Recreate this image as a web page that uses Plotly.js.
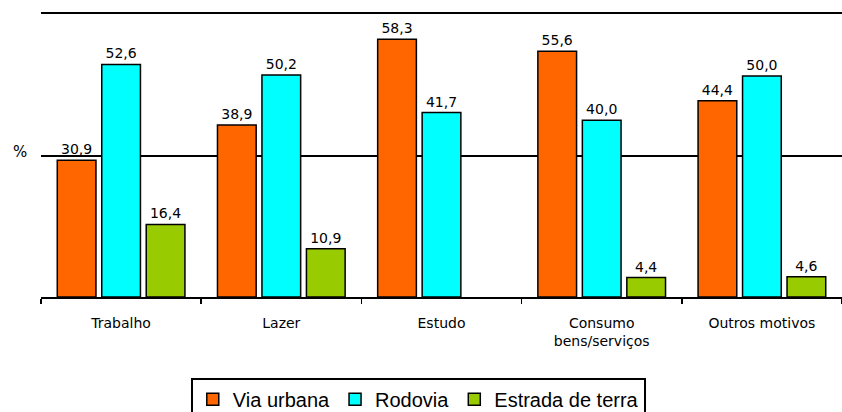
<!DOCTYPE html>
<html>
<head>
<meta charset="utf-8">
<script src="https://cdn.plot.ly/plotly-3.0.1.min.js"></script>
<style>
html,body{margin:0;padding:0;overflow:hidden;background:#fff;width:842px;height:412px;}
#chart{width:842px;height:412px;}
</style>
</head>
<body>
<div id="chart"></div>
<script>
const categories = ["Trabalho", "Lazer", "Estudo", "Consumo<br>bens/serviços", "Outros motivos"];
const viaUrbana = [30.9, 38.9, 58.3, 55.6, 44.4];
const rodovia = [52.6, 50.2, 41.7, 40.0, 50.0];
const estradaTerra = [16.4, 10.9, null, 4.4, 4.6];
const seriesNames = ["Via urbana", "Rodovia", "Estrada de terra"];
const seriesColors = ["#FF6600", "#00FFFF", "#99CC00"];

function fmt(arr){ return arr.map(v => v === null ? "" : v.toFixed(1).replace(".", ",")); }

const traces = [viaUrbana, rodovia, estradaTerra].map((vals, i) => ({
  type: "bar",
  name: seriesNames[i],
  x: categories,
  y: vals,
  text: fmt(vals),
  textposition: "outside",
  cliponaxis: false,
  textfont: {family: "DejaVu Sans, sans-serif", size: 14, color: "#000"},
  marker: {color: seriesColors[i], line: {color: "#000", width: 1.5}},
  hoverinfo: "none"
}));

const layout = {
  width: 842, height: 412,
  margin: {l: 41, r: 0, t: 14, b: 115, autoexpand: false},
  paper_bgcolor: "#fff", plot_bgcolor: "#fff",
  barmode: "group",
  bargap: 0.167,
  bargroupgap: 0.13,
  font: {family: "DejaVu Sans, sans-serif", size: 14, color: "#000"},
  xaxis: {
    type: "category", automargin: false,
    showline: true, linecolor: "#000", linewidth: 2, mirror: true,
    ticks: "outside", tickson: "boundaries", ticklen: 5, tickwidth: 1.5, tickcolor: "#000",
    ticklabelstandoff: 12,
    tickfont: {family: "DejaVu Sans, sans-serif", size: 14, color: "#000"},
    showgrid: false, zeroline: false
  },
  yaxis: {
    range: [0, 64], dtick: 32, tick0: 0, automargin: false,
    showgrid: true, gridcolor: "#000", gridwidth: 2,
    showticklabels: false, ticks: "", zeroline: false, showline: false
  },
  legend: {
    orientation: "h",
    x: 0.187, xanchor: "left",
    y: -0.285, yanchor: "top",
    bordercolor: "#000", borderwidth: 2,
    font: {family: "Liberation Sans, Arial, sans-serif", size: 20, color: "#000"},
    itemclick: false
  },
  annotations: [{
    text: "%", xref: "paper", yref: "paper",
    x: -0.026, y: 0.512, xanchor: "center", yanchor: "middle",
    showarrow: false, font: {family: "DejaVu Sans, sans-serif", size: 15, color: "#000"}
  }]
};

Plotly.newPlot("chart", traces, layout, {displayModeBar: false, staticPlot: true});
</script>
</body>
</html>
